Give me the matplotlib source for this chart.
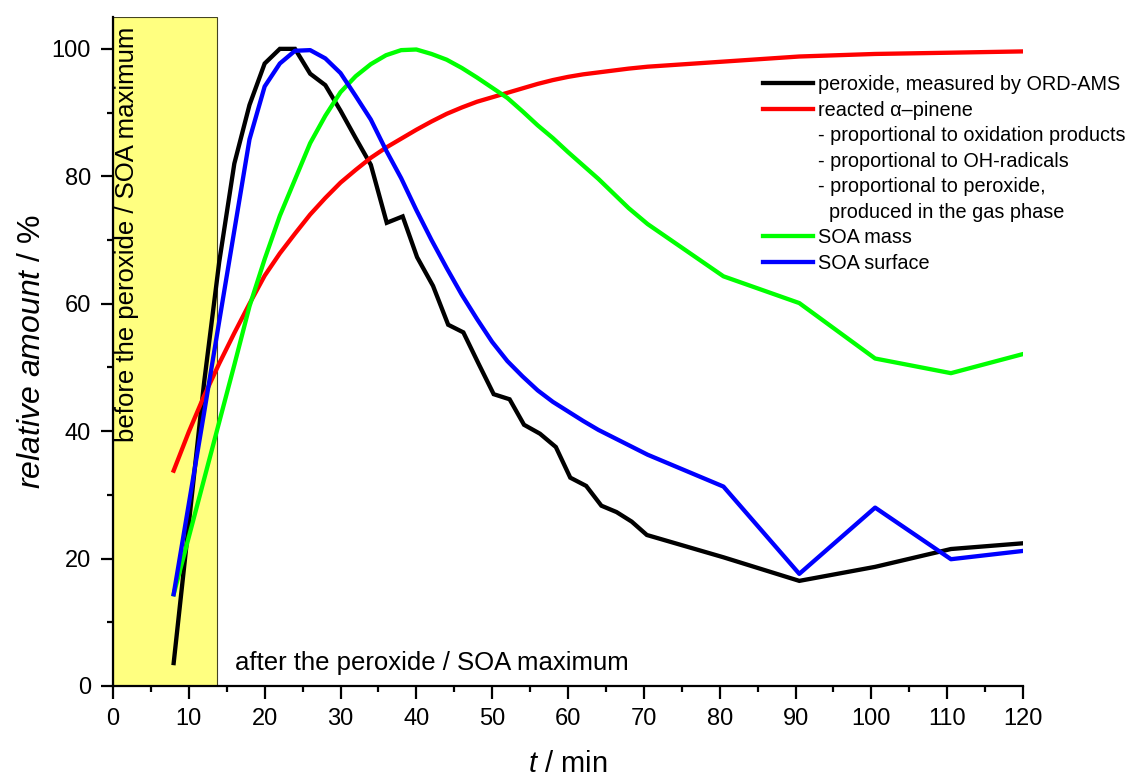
import matplotlib
matplotlib.use("Agg")
import matplotlib.pyplot as plt
from matplotlib.lines import Line2D
from matplotlib.ticker import MultipleLocator

plt.rcParams['font.family'] = ['Liberation Sans', 'DejaVu Sans']
plt.rcParams['mathtext.fontset'] = 'custom'
plt.rcParams['mathtext.rm'] = 'Liberation Sans'
plt.rcParams['mathtext.it'] = 'Liberation Sans:italic'

# ---- data ----
t_peroxide = [8, 10, 12, 14, 16, 18, 20, 22, 24, 26, 28, 30, 32, 34, 36.1, 38.2,
              40.1, 42.2, 44.2, 46.2, 48.2, 50.2, 52.3, 54.2, 56.3, 58.4, 60.3,
              62.4, 64.4, 66.4, 68.4, 70.4, 80.5, 90.5, 100.5, 110.5, 120]
peroxide = [3.6, 25.5, 47.5, 66.5, 82, 91.2, 97.7, 100, 100, 96.1, 94.3, 90.3,
            86, 81.8, 72.7, 73.7, 67.3, 62.8, 56.7, 55.5, 50.6, 45.8, 45.0, 41.0,
            39.6, 37.5, 32.7, 31.4, 28.3, 27.3, 25.8, 23.7, 20.2, 16.5, 18.7,
            21.5, 22.4]

t_common = [8, 10, 12, 14, 16, 18, 20, 22, 24, 26, 28, 30, 32, 34, 36, 38, 40,
            42, 44, 46, 48, 50, 52, 54, 56, 58, 60, 62, 64, 66, 68, 70.5, 80.5,
            90.5, 100.5, 110.5, 120]
pinene = [33.8, 39.9, 45.5, 50.6, 55.4, 60.0, 64.4, 67.9, 71.0, 74.0, 76.6, 79.0,
          81.0, 82.9, 84.5, 85.9, 87.3, 88.6, 89.8, 90.8, 91.7, 92.4, 93.1, 93.8,
          94.5, 95.1, 95.6, 96.0, 96.3, 96.6, 96.9, 97.2, 98.0, 98.8, 99.2, 99.4,
          99.6]
soa_mass = [14.4, 23.4, 32.4, 41.4, 50.4, 59.6, 67.0, 73.8, 79.5, 85.2, 89.5,
            93.2, 95.7, 97.6, 99.0, 99.8, 99.9, 99.2, 98.3, 97.0, 95.5, 93.9,
            92.3, 90.2, 88.0, 86.0, 83.8, 81.7, 79.6, 77.3, 75.0, 72.5, 64.3,
            60.1, 51.4, 49.1, 52.1]
soa_surface = [14.4, 28.6, 42.8, 57.2, 71.5, 85.8, 94.1, 97.7, 99.7, 99.8, 98.5,
               96.2, 92.6, 88.9, 84.1, 79.7, 74.7, 70.0, 65.6, 61.4, 57.6, 54.0,
               51.0, 48.6, 46.4, 44.6, 43.1, 41.6, 40.2, 39.0, 37.8, 36.3, 31.3,
               17.6, 28.0, 19.9, 21.2]

labels = ["peroxide, measured by ORD-AMS", "reacted \u03b1\u2013pinene",
          "- proportional to oxidation products", "- proportional to OH-radicals",
          "- proportional to peroxide,", "  produced in the gas phase",
          "SOA mass", "SOA surface"]
region_end = 13.7
before_text = "before the peroxide / SOA maximum"
after_text = "after the peroxide / SOA maximum"

# ---- figure ----
fig = plt.figure(figsize=(11.33, 7.78), dpi=100)
ax = fig.add_axes([113/1133, 92/778, 910/1133, 669/778])

ax.axvspan(0, region_end, ymin=0, ymax=1, facecolor='#ffff80',
           edgecolor='#444422', lw=0.8, zorder=0)

lw = 3.1
l1, = ax.plot(t_peroxide, peroxide, color='black', lw=lw, solid_joinstyle='miter', zorder=3)
l2, = ax.plot(t_common, pinene, color='#ff0000', lw=lw, zorder=3)
l3, = ax.plot(t_common, soa_mass, color='#00ff00', lw=lw, zorder=3)
l4, = ax.plot(t_common, soa_surface, color='#0000ff', lw=lw, zorder=3)

ax.set_xlim(0, 120)
ax.set_ylim(0, 105)
ax.xaxis.set_major_locator(MultipleLocator(10))
ax.xaxis.set_minor_locator(MultipleLocator(5))
ax.yaxis.set_major_locator(MultipleLocator(20))
ax.yaxis.set_minor_locator(MultipleLocator(10))
ax.set_yticks([0, 20, 40, 60, 80, 100])

for s in ['top', 'right']:
    ax.spines[s].set_visible(False)
for s in ['left', 'bottom']:
    ax.spines[s].set_linewidth(1.6)

ax.tick_params(which='major', direction='out', length=9, width=1.6,
               labelsize=17, pad=7)
ax.tick_params(which='minor', direction='out', length=4.5, width=1.6)

ax.set_xlabel(r'$\it{t}$ / min', fontsize=21, labelpad=14)
ax.set_ylabel(r'$\it{relative\ amount}$ / %', fontsize=23, labelpad=3)

ax.text(1.8, 103.5, before_text, rotation=90, ha='center', va='top',
        fontsize=18.5, zorder=4)
ax.text(16.1, 2.5, after_text, ha='left', va='baseline', fontsize=18.5, zorder=4)

blank = lambda: Line2D([], [], color='none')
handles = [l1, l2, blank(), blank(), blank(), blank(), l3, l4]
leg = fig.legend(handles, labels, loc='upper left',
                 bbox_to_anchor=(763/1133, 1 - 75/778),
                 bbox_transform=fig.transFigure, frameon=False,
                 fontsize=14.3, handlelength=2.5, handletextpad=0.25,
                 labelspacing=0.33, borderpad=0, borderaxespad=0)

fig.savefig('out.png', dpi=100)
